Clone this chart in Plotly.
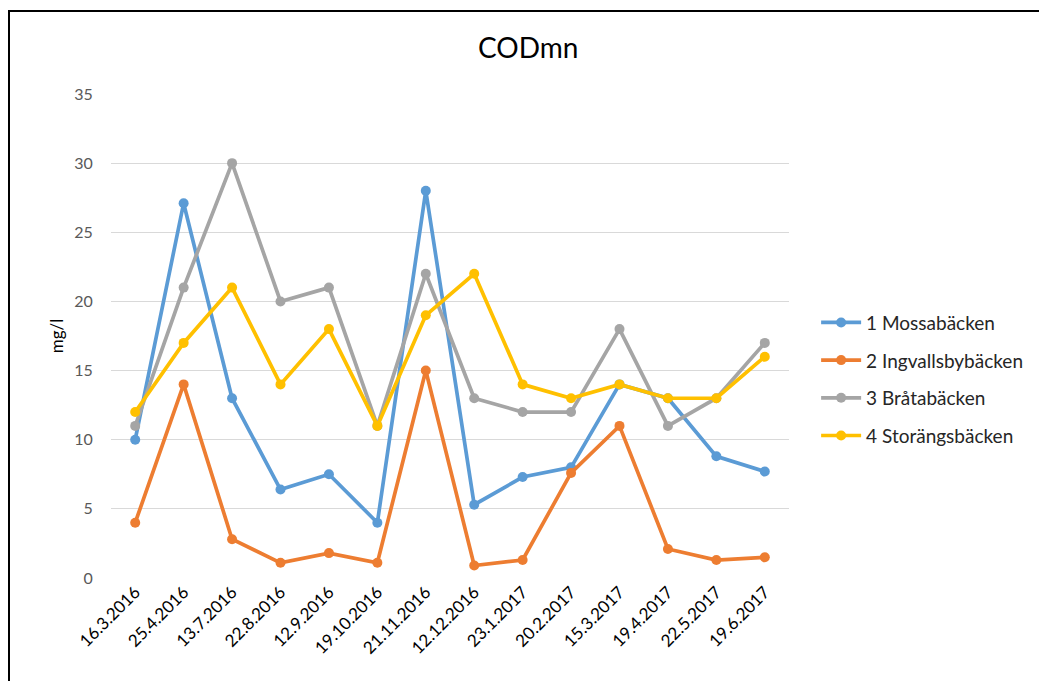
import plotly.graph_objects as go

dates = ["16.3.2016", "25.4.2016", "13.7.2016", "22.8.2016", "12.9.2016", "19.10.2016",
         "21.11.2016", "12.12.2016", "23.1.2017", "20.2.2017", "15.3.2017", "19.4.2017",
         "22.5.2017", "19.6.2017"]
mossa = [10, 27.1, 13, 6.4, 7.5, 4, 28, 5.3, 7.3, 8, 14, 13, 8.8, 7.7]
ingvalls = [4, 14, 2.8, 1.1, 1.8, 1.1, 15, 0.9, 1.3, 7.6, 11, 2.1, 1.3, 1.5]
brata = [11, 21, 30, 20, 21, 11, 22, 13, 12, 12, 18, 11, 13, 17]
storangs = [12, 17, 21, 14, 18, 11, 19, 22, 14, 13, 14, 13, 13, 16]

names = ["1 Mossabäcken", "2 Ingvallsbybäcken", "3 Bråtabäcken", "4 Storängsbäcken"]
series = [mossa, ingvalls, brata, storangs]
colors = ["#5B9BD5", "#ED7D31", "#A5A5A5", "#FFC000"]

FONT = "Lato"

fig = go.Figure()
for i, (n, s, c) in enumerate(zip(names, series, colors)):
    fig.add_trace(go.Scatter(
        x=dates, y=s, name=n, mode="lines+markers",
        line=dict(color=c, width=3.7),
        marker=dict(color=c, size=10),
        legendgroup=f"g{i}",
    ))

fig.update_layout(
    width=1039, height=681,
    margin=dict(l=111, r=250, t=94, b=103, autoexpand=False),
    paper_bgcolor="white", plot_bgcolor="white",
    font=dict(family=FONT),
    showlegend=True,
    legend=dict(x=1.04, xanchor="left", y=0.567, yanchor="top",
                font=dict(size=19, color="#262626", family=FONT),
                tracegroupgap=10, itemwidth=40, bgcolor="rgba(0,0,0,0)"),
    xaxis=dict(type="category", range=[-0.5, 13.5], tickangle=-45, automargin=False,
               tickfont=dict(size=17, color="#000000", family=FONT),
               showgrid=False, showline=False, ticks="", ticklen=0),
    yaxis=dict(range=[0, 35], dtick=5, showgrid=True, gridcolor="#D9D9D9", gridwidth=1.3,
               automargin=False,
               zeroline=False, showline=False, ticks="outside", ticklen=14, tickcolor="white",
               tickfont=dict(size=16, color="#595959", family=FONT),
               title=dict(text="mg/l", font=dict(size=17, color="#000000", family=FONT),
                          standoff=6)),
    annotations=[dict(text="CODmn", xref="paper", yref="paper",
                      x=(528 - 111) / 678, y=(578 - 47) / 484,
                      xanchor="center", yanchor="middle", showarrow=False,
                      font=dict(size=28, color="#000000", family=FONT))],
    shapes=[dict(type="rect", xref="paper", yref="paper",
                 x0=(9 - 111) / 678, x1=(1050 - 111) / 678,
                 y0=(578 - 700) / 484, y1=(578 - 11) / 484,
                 line=dict(color="#000000", width=2), layer="above")],
)

fig.write_html("out.html", config={"displayModeBar": False},
               post_script="document.body.style.margin='0';document.body.style.overflow='hidden';")
